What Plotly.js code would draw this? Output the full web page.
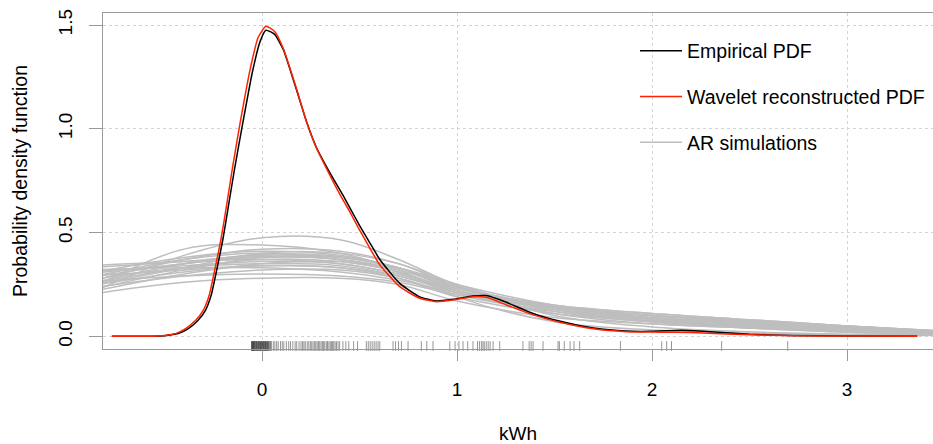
<!DOCTYPE html>
<html>
<head>
<meta charset="utf-8">
<script src="https://cdn.plot.ly/plotly-3.0.1.min.js"></script>
<style>html,body{margin:0;padding:0;background:#fff;}#chart{width:933px;height:444px;}</style>
</head>
<body>
<div id="chart"></div>
<script>
// ---- Data ----
// Empirical PDF (black)
const empX = [-0.77,-0.6,-0.5,-0.43,-0.38,-0.33,-0.29,-0.26,-0.23,-0.20,-0.17,-0.14,-0.10,-0.05,-0.01,0.02,0.065,0.11,0.176,0.228,0.279,0.347,0.415,0.45,0.50,0.55,0.604,0.706,0.809,0.894,0.979,1.08,1.15,1.25,1.39,1.53,1.70,1.87,2.0,2.15,2.3,2.5,2.72,3.0,3.36];
const empY = [0,0,0.003,0.013,0.036,0.075,0.125,0.2,0.33,0.47,0.64,0.81,1.02,1.27,1.42,1.475,1.455,1.38,1.19,1.035,0.91,0.79,0.68,0.62,0.535,0.455,0.37,0.255,0.19,0.17,0.178,0.194,0.196,0.165,0.11,0.072,0.04,0.025,0.024,0.029,0.022,0.01,0.004,0.001,0];

// Wavelet reconstructed PDF (red)
const wavX = [-0.77,-0.6,-0.5,-0.44,-0.39,-0.34,-0.30,-0.27,-0.24,-0.21,-0.18,-0.15,-0.11,-0.06,-0.02,0.02,0.065,0.108,0.176,0.228,0.279,0.347,0.415,0.45,0.50,0.55,0.604,0.706,0.809,0.894,0.979,1.082,1.151,1.253,1.39,1.527,1.70,1.87,2.04,2.2,2.38,2.72,3.0,3.36];
const wavY = [0,0,0.004,0.014,0.038,0.077,0.127,0.2,0.33,0.47,0.64,0.82,1.04,1.29,1.44,1.494,1.469,1.389,1.196,1.035,0.907,0.778,0.657,0.601,0.513,0.43,0.344,0.239,0.183,0.167,0.175,0.191,0.188,0.151,0.103,0.068,0.036,0.022,0.02,0.018,0.011,0.003,0.001,0];

// AR simulations (grey), common x grid
const arX = [-0.9,-0.4,0,0.4,0.7,1.0,1.5,2.0,2.5,3.0,3.5];
const arSims = [
  [0.20,0.39,0.475,0.465,0.37,0.245,0.10,0.045,0.022,0.010,0.004],
  [0.22,0.42,0.44,0.40,0.32,0.19,0.07,0.03,0.015,0.007,0.003],
  [0.26,0.37,0.42,0.41,0.35,0.24,0.13,0.08,0.05,0.03,0.012],
  [0.30,0.38,0.41,0.39,0.33,0.24,0.14,0.09,0.06,0.035,0.015],
  [0.33,0.36,0.39,0.38,0.33,0.25,0.15,0.10,0.07,0.045,0.02],
  [0.24,0.33,0.40,0.40,0.35,0.25,0.12,0.07,0.045,0.025,0.01],
  [0.28,0.35,0.38,0.37,0.32,0.23,0.14,0.10,0.07,0.04,0.018],
  [0.25,0.33,0.37,0.36,0.31,0.22,0.13,0.09,0.06,0.035,0.015],
  [0.31,0.34,0.36,0.35,0.30,0.22,0.14,0.10,0.075,0.05,0.022],
  [0.22,0.32,0.38,0.38,0.33,0.22,0.11,0.06,0.04,0.02,0.008],
  [0.27,0.33,0.35,0.34,0.29,0.21,0.13,0.09,0.065,0.04,0.02],
  [0.29,0.32,0.34,0.33,0.29,0.22,0.15,0.11,0.08,0.05,0.025],
  [0.21,0.30,0.35,0.36,0.31,0.21,0.12,0.075,0.05,0.03,0.012],
  [0.32,0.33,0.33,0.31,0.27,0.21,0.14,0.10,0.07,0.045,0.022],
  [0.23,0.29,0.32,0.32,0.28,0.20,0.12,0.08,0.055,0.035,0.016],
  [0.26,0.29,0.30,0.29,0.26,0.20,0.14,0.10,0.075,0.05,0.025],
  [0.20,0.26,0.28,0.28,0.25,0.17,0.09,0.06,0.04,0.025,0.01],
  [0.34,0.36,0.37,0.35,0.30,0.23,0.15,0.11,0.08,0.05,0.024],
  [0.25,0.35,0.395,0.385,0.33,0.24,0.13,0.07,0.04,0.02,0.008],
  [0.28,0.37,0.40,0.37,0.31,0.22,0.13,0.085,0.06,0.04,0.018],
  [0.24,0.31,0.34,0.33,0.28,0.19,0.11,0.07,0.045,0.025,0.01],
  [0.30,0.35,0.385,0.37,0.32,0.235,0.145,0.10,0.07,0.045,0.02]
];

// Rug of observations (kWh)
const rugX = [-0.054,-0.052,-0.05,-0.048,-0.046,-0.044,-0.042,-0.04,-0.038,-0.035,-0.032,-0.03,-0.028,-0.025,-0.022,-0.02,-0.018,-0.015,-0.012,-0.01,-0.008,-0.005,-0.003,0,0.002,0.005,0.008,0.01,0.012,0.015,0.018,0.02,0.022,0.025,0.028,0.03,0.033,0.036,0.04,0.044,0.048,
  0.058,0.066,0.075,0.083,0.095,0.104,0.112,0.125,0.137,0.146,0.158,0.17,0.178,0.19,
  0.2,0.208,0.215,0.222,0.232,0.24,0.248,0.255,0.262,0.27,0.276,0.283,0.29,0.296,0.303,0.31,0.316,0.322,0.33,0.336,0.343,0.35,0.356,0.362,0.368,0.375,0.382,0.39,0.398,
  0.415,0.43,0.445,0.47,0.49,0.535,0.545,0.555,0.565,0.575,0.585,0.595,0.604,0.672,0.685,0.7,0.715,0.749,0.817,0.845,0.877,
  0.963,0.99,1.01,1.031,1.055,1.082,1.105,1.115,1.125,1.133,1.14,1.15,1.16,1.17,1.185,1.219,
  1.338,1.37,1.38,1.39,1.441,1.518,1.525,1.55,1.58,1.6,1.629,1.838,2.05,2.075,2.1,2.357,2.696];
const rugLevel = -0.047;

const xTicks = [0,1,2,3];
const xTickText = ['0','1','2','3'];
const yTicks = [0,0.5,1,1.5];
const yTickText = ['0.0','0.5','1.0','1.5'];

const labels = {
  emp: 'Empirical PDF',
  wav: 'Wavelet reconstructed PDF',
  ar: 'AR simulations',
  x: 'kWh',
  y: 'Probability density function'
};

// ---- Traces ----
const traces = [];
arSims.forEach((ys, i) => {
  traces.push({
    x: arX, y: ys, type: 'scatter', mode: 'lines',
    line: {color: '#bebebe', width: 1.5, shape: 'spline', smoothing: 1},
    name: labels.ar, legendgroup: 'ar', showlegend: i === 0, legendrank: 3,
    hoverinfo: 'skip'
  });
});
traces.push({
  x: rugX, y: rugX.map(() => rugLevel), type: 'scatter', mode: 'markers',
  marker: {symbol: 'line-ns', size: 7, line: {width: 0.7, color: 'rgba(0,0,0,0.6)'}},
  showlegend: false, hoverinfo: 'skip', cliponaxis: false
});
traces.push({
  x: empX, y: empY, type: 'scatter', mode: 'lines',
  line: {color: '#000000', width: 1.5, shape: 'spline', smoothing: 0.5},
  name: labels.emp, legendgroup: 'emp', legendrank: 1
});
traces.push({
  x: wavX, y: wavY, type: 'scatter', mode: 'lines',
  line: {color: '#ff2200', width: 1.5, shape: 'spline', smoothing: 0.5},
  name: labels.wav, legendgroup: 'wav', legendrank: 2
});

const fontFam = '"Liberation Sans", Arial, Helvetica, sans-serif';
const layout = {
  width: 933, height: 444,
  margin: {l: 103, r: 0, t: 13, b: 95, pad: 0},
  paper_bgcolor: '#ffffff', plot_bgcolor: '#ffffff',
  font: {family: fontFam, size: 19, color: '#000'},
  showlegend: true,
  legend: {
    x: 0.641, xanchor: 'left', y: 0.945, yanchor: 'top',
    bgcolor: 'rgba(0,0,0,0)', borderwidth: 0,
    font: {family: fontFam, size: 19.5, color: '#000'},
    tracegroupgap: 17.5, itemwidth: 42, traceorder: 'grouped'
  },
  xaxis: {
    range: [-0.8154, 3.441], tickmode: 'array', tickvals: xTicks, ticktext: xTickText,
    ticks: 'outside', ticklen: 11, tickwidth: 1, tickcolor: '#999',
    showline: true, linecolor: '#999', linewidth: 1.2, mirror: true,
    showgrid: true, gridcolor: '#d4d4d4', griddash: 'dot', gridwidth: 1,
    zeroline: false, automargin: false, ticklabelstandoff: 12,
    tickfont: {size: 19},
    title: {text: labels.x, font: {size: 19}, standoff: 34}
  },
  yaxis: {
    range: [-0.0613, 1.5579], tickmode: 'array', tickvals: yTicks, ticktext: yTickText,
    tickangle: -90,
    ticks: 'outside', ticklen: 13, tickwidth: 1, tickcolor: '#999',
    showline: true, linecolor: '#999', linewidth: 1.2, mirror: false,
    showgrid: true, gridcolor: '#d4d4d4', griddash: 'dot', gridwidth: 1,
    zeroline: false, automargin: false, ticklabelstandoff: 9,
    tickfont: {size: 19},
    title: {text: labels.y, font: {size: 19.5}, standoff: 22}
  }
};

Plotly.newPlot('chart', traces, layout, {staticPlot: true, displayModeBar: false});
</script>
</body>
</html>
